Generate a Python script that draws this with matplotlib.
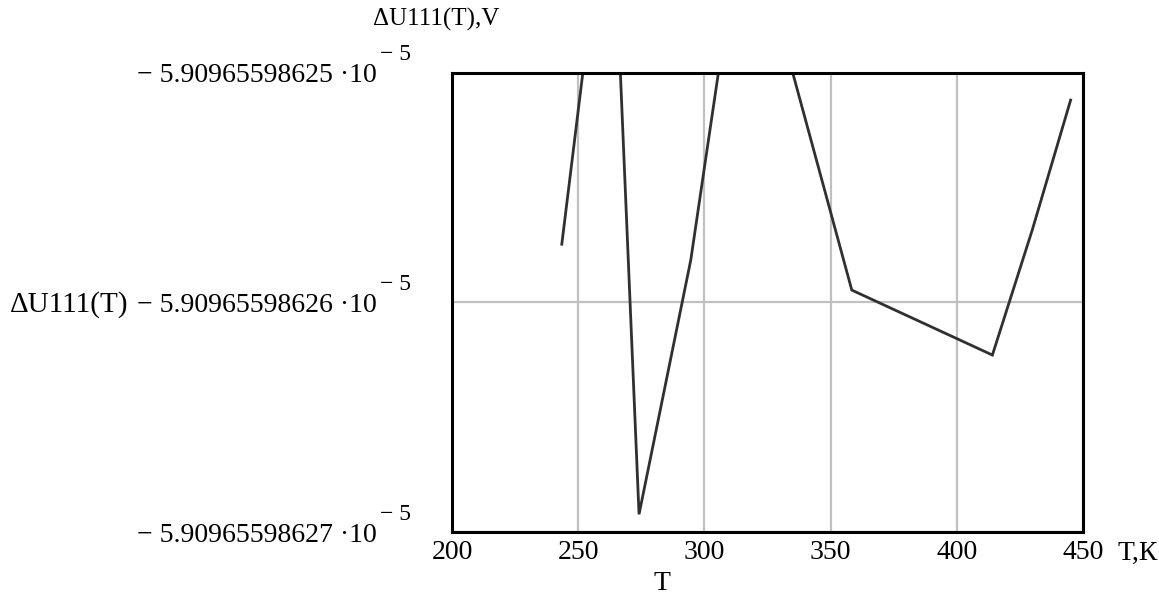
import matplotlib
matplotlib.use("Agg")
import matplotlib.pyplot as plt

# ---- data ----
T_values = [243.5, 262.9, 274.1, 294.6, 315.9, 358.4, 414.1, 429.9, 445.1]
dU_values = [-5.90965598625746e-5, -5.90965598624008e-5, -5.90965598626923e-5,
             -5.90965598625815e-5, -5.90965598624227e-5, -5.90965598625946e-5,
             -5.90965598626229e-5, -5.90965598625684e-5, -5.90965598625118e-5]
x_ticks = [200, 250, 300, 350, 400, 450]
x_tick_labels = ["200", "250", "300", "350", "400", "450"]
y_ticks = [-5.90965598627e-5, -5.90965598626e-5, -5.90965598625e-5]
y_tick_mantissas = ["5.90965598627", "5.90965598626", "5.90965598625"]
y_tick_exponent = "− 5"

plt.rcParams['font.family'] = ['Liberation Serif', 'DejaVu Serif']

FS = 20

fig = plt.figure(figsize=(11.59, 5.99), dpi=100)
ax = fig.add_axes([452 / 1159, 1 - 532 / 599, (1083 - 452) / 1159, (532 - 73) / 599])

ax.plot(T_values, dU_values, color='#303030', lw=2.0, solid_joinstyle='miter', zorder=3)

ax.set_xlim(x_ticks[0], x_ticks[-1])
ax.set_ylim(y_ticks[0], y_ticks[-1])
ax.set_xticks(x_ticks)
ax.set_xticklabels(x_tick_labels, fontsize=FS)
ax.set_yticks(y_ticks)
ax.set_yticklabels(['− ' + m + ' ·10' for m in y_tick_mantissas], fontsize=FS)
ax.tick_params(axis='both', length=0)
ax.tick_params(axis='y', pad=54)
ax.tick_params(axis='x', pad=6)

# exponent "superscripts" next to each y tick label
for yv in y_ticks:
    ax.annotate(y_tick_exponent, xy=(0, yv), xycoords=('axes fraction', 'data'),
                xytext=(-72, 18), textcoords='offset pixels',
                fontsize=17, ha='left', va='center')

ax.grid(True, color='#c0c0c0', lw=1.6)
ax.set_axisbelow(True)
for s in ax.spines.values():
    s.set_linewidth(2.2)
    s.set_color('black')
    s.set_zorder(4)

fig.text(373 / 1159, 1 - 19 / 599, 'ΔU111(T),V', fontsize=18, ha='left', va='center')
fig.text(10 / 1159, 1 - 305 / 599, 'ΔU111(T)', fontsize=21, ha='left', va='center')
fig.text(1117 / 1159, 1 - 553 / 599, 'T,К', fontsize=FS, ha='left', va='center')
fig.text(662 / 1159, 1 - 584 / 599, 'T', fontsize=FS, ha='center', va='center')

fig.savefig('out.png', dpi=100)
